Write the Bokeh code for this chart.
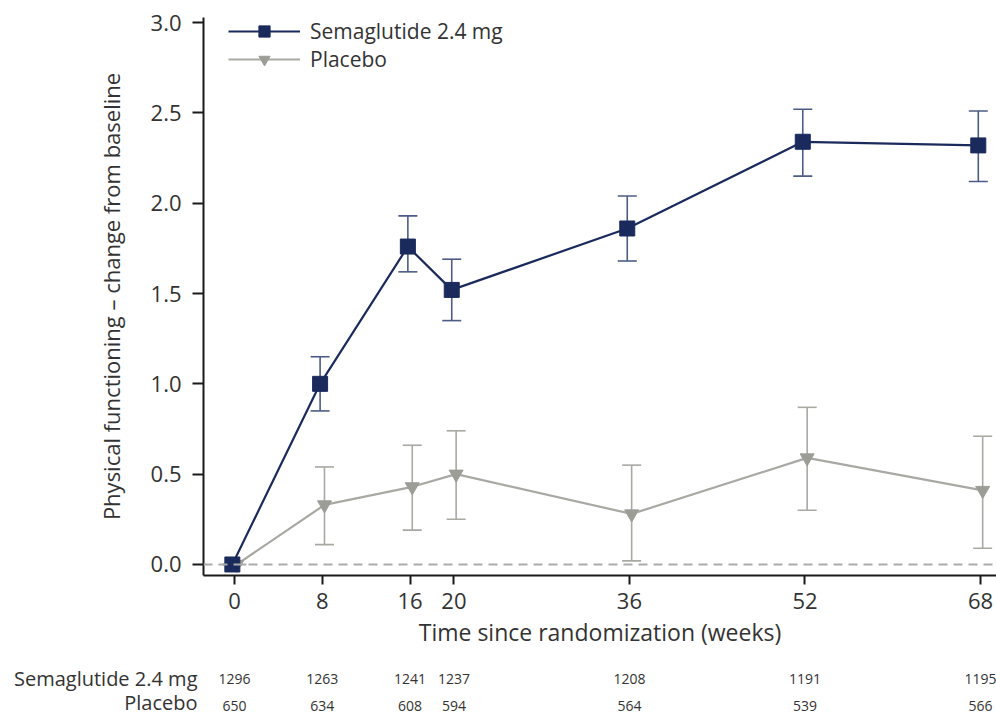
from bokeh.plotting import figure
from bokeh.layouts import column
from bokeh.models import (ColumnDataSource, Whisker, TeeHead, Span, Legend, LegendItem,
                          Range1d, FixedTicker, NumeralTickFormatter)
from bokeh.core.properties import value
from bokeh.embed import file_html
from bokeh.resources import INLINE

# ---- data ----
weeks = [0, 8, 16, 20, 36, 52, 68]
sema_mean = [0.0, 1.00, 1.76, 1.52, 1.86, 2.34, 2.32]
sema_low = [0.0, 0.85, 1.62, 1.35, 1.68, 2.15, 2.12]
sema_high = [0.0, 1.15, 1.93, 1.69, 2.04, 2.52, 2.51]
plac_mean = [0.0, 0.33, 0.43, 0.50, 0.28, 0.59, 0.41]
plac_low = [0.0, 0.11, 0.19, 0.25, 0.02, 0.30, 0.09]
plac_high = [0.0, 0.54, 0.66, 0.74, 0.55, 0.87, 0.71]
sema_n = ["1296", "1263", "1241", "1237", "1208", "1191", "1195"]
plac_n = ["650", "634", "608", "594", "564", "539", "566"]
y_ticks = [0.0, 0.5, 1.0, 1.5, 2.0, 2.5, 3.0]

SEMA_LABEL = "Semaglutide 2.4 mg"
PLAC_LABEL = "Placebo"
FONT = "Open Sans"
TXT = "#333333"
NAVY = "#1b2a5c"
NAVY_ERR = "#4d5b86"
GRAY = "#a9a9a3"
GRAY_M = "#9d9d97"
DODGE = 0.2

W = 996
LEFT = 203
X0, X1 = -2.83, 69.46
Y0, Y1 = -0.061, 3.028

sema_src = ColumnDataSource(dict(x=[w - DODGE for w in weeks], y=sema_mean,
                                 lo=sema_low, hi=sema_high))
plac_src = ColumnDataSource(dict(x=[w + DODGE for w in weeks], y=plac_mean,
                                 lo=plac_low, hi=plac_high))

xr = Range1d(X0, X1)
p = figure(width=W, height=650, output_backend="svg", toolbar_location=None,
           x_range=xr, y_range=Range1d(Y0, Y1),
           min_border_left=LEFT, min_border_right=0, min_border_top=17,
           min_border_bottom=75)
p.outline_line_color = None
p.grid.visible = False

# zero reference
p.add_layout(Span(location=0, dimension="width", line_color="#ababab",
                  line_width=2, line_dash="9 6"))

# error bars
for src, col in ((plac_src, GRAY), (sema_src, NAVY_ERR)):
    p.add_layout(Whisker(source=src, base="x", lower="lo", upper="hi", line_color=col,
                         line_width=1.6,
                         upper_head=TeeHead(size=19, line_color=col, line_width=1.6),
                         lower_head=TeeHead(size=19, line_color=col, line_width=1.6)))

pl_line = p.line("x", "y", source=plac_src, line_color=GRAY, line_width=2.2)
pl_mark = p.scatter("x", "y", source=plac_src, marker="inverted_triangle", size=14,
                    fill_color=GRAY_M, line_color=GRAY_M)
se_line = p.line("x", "y", source=sema_src, line_color=NAVY, line_width=2.2)
se_mark = p.scatter("x", "y", source=sema_src, marker="square", size=15,
                    fill_color=NAVY, line_color=NAVY)

legend = Legend(items=[LegendItem(label=SEMA_LABEL, renderers=[se_line, se_mark]),
                       LegendItem(label=PLAC_LABEL, renderers=[pl_line, pl_mark])],
                location=(25, 502), margin=0, padding=0, spacing=0,
                glyph_width=72, glyph_height=28, label_height=28, label_width=230,
                label_standoff=10, border_line_color=None,
                background_fill_alpha=0, label_text_font=FONT,
                label_text_font_size="21px", label_text_color=TXT)
p.add_layout(legend)

# axes
ax_y = p.yaxis[0]
ax_y.ticker = FixedTicker(ticks=y_ticks)
ax_y.formatter = NumeralTickFormatter(format="0.0")
ax_y.axis_label = "Physical functioning \u2013 change from baseline"
ax_y.major_tick_out = 11
ax_y.major_label_standoff = 11
ax_y.axis_label_standoff = 22

ax_x = p.xaxis[0]
ax_x.ticker = FixedTicker(ticks=weeks)
ax_x.axis_label = "Time since randomization (weeks)"
ax_x.major_tick_out = 9
ax_x.major_label_standoff = 8
ax_x.axis_label_standoff = 4

for ax, fs, ls in ((ax_x, "22px", "23px"), (ax_y, "22px", "22px")):
    ax.minor_tick_line_color = None
    ax.major_tick_in = 0
    ax.axis_line_color = "#1a1a1a"
    ax.axis_line_width = 2
    ax.major_tick_line_color = "#1a1a1a"
    ax.major_tick_line_width = 2
    ax.major_label_text_font = FONT
    ax.major_label_text_font_size = fs
    ax.major_label_text_color = TXT
    ax.axis_label_text_font = FONT
    ax.axis_label_text_font_size = ls
    ax.axis_label_text_font_style = "normal"
    ax.axis_label_text_color = TXT

# ---- number-at-risk table (separate strip sharing the same x scale) ----
ROW1, ROW2 = 37, 10
t = figure(width=W, height=65, output_backend="svg", toolbar_location=None,
           x_range=xr, y_range=Range1d(0, 65),
           min_border_left=LEFT, min_border_right=0, min_border_top=0,
           min_border_bottom=0)
t.outline_line_color = None
t.grid.visible = False
t.xaxis.visible = False
ty = t.yaxis[0]
ty.ticker = FixedTicker(ticks=[ROW1, ROW2])
ty.major_label_overrides = {ROW1: SEMA_LABEL, ROW2: PLAC_LABEL}
ty.axis_line_color = None
ty.major_tick_line_color = None
ty.minor_tick_line_color = None
ty.major_label_standoff = 0
ty.major_label_text_font = FONT
ty.major_label_text_font_size = "20px"
ty.major_label_text_color = TXT

tab_src = ColumnDataSource(dict(x=weeks, sema=sema_n, plac=plac_n,
                                y1=[ROW1] * len(weeks), y2=[ROW2] * len(weeks)))
for col, ycol in (("sema", "y1"), ("plac", "y2")):
    t.text(x="x", y=ycol, text=col, source=tab_src, text_align="center",
           text_baseline="middle", text_font=value(FONT), text_font_size="14px",
           text_color=TXT)

layout = column(p, t, spacing=0)
open("out.html", "w").write(file_html(layout, INLINE))
